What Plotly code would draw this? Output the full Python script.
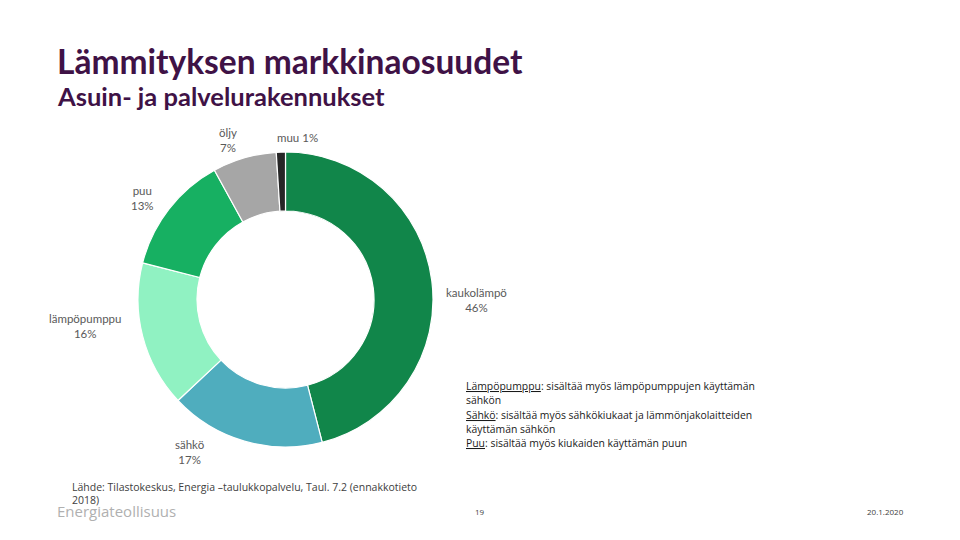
import plotly.graph_objects as go

# Data
categories = ["kaukolämpö", "sähkö", "lämpöpumppu", "puu", "öljy", "muu"]
shares = [46, 17, 16, 13, 7, 1]
colors = ["#11864A", "#4FADBE", "#90F2C2", "#17B062", "#A6A6A6", "#262626"]

W, H = 960, 540
OX, OY = 8, 8  # page body offset compensation


def px(x):
    return (x - OX) / W


def py(y):
    return 1 - (y - OY) / H


fig = go.Figure()
fig.add_trace(go.Pie(
    labels=categories,
    values=shares,
    sort=False,
    direction="clockwise",
    rotation=0,
    hole=0.6,
    marker=dict(colors=colors, line=dict(color="white", width=1.2)),
    textinfo="none",
    showlegend=False,
    domain=dict(x=[px(138), px(433)], y=[py(447), py(152)]),
))

# Label placements (text positions only)
label_pos = {
    "kaukolämpö": (476, 300),
    "sähkö": (190, 452),
    "lämpöpumppu": (85, 326),
    "puu": (142, 198),
    "öljy": (228, 140),
    "muu": (297, 137),
}
lab_font = dict(family="Lato, Open Sans, sans-serif", size=11.5, color="#595959")
for cat, val in zip(categories, shares):
    x, y = label_pos[cat]
    txt = f"{cat} {val}%" if cat == "muu" else f"{cat}<br>{val}%"
    fig.add_annotation(x=px(x), y=py(y), xref="paper", yref="paper",
                       text=txt, showarrow=False, font=lab_font, align="center",
                       xanchor="center", yanchor="middle")

# Titles
fig.add_annotation(x=px(55), y=py(61), xref="paper", yref="paper",
                   text="<b>Lämmityksen markkinaosuudet</b>", showarrow=False,
                   font=dict(family="Lato, sans-serif", size=33.5, color="#3F1246"),
                   xanchor="left", yanchor="middle")
fig.add_annotation(x=px(55), y=py(96), xref="paper", yref="paper",
                   text="<b>Asuin- ja palvelurakennukset</b>", showarrow=False,
                   font=dict(family="Lato, sans-serif", size=25.5, color="#3F1246"),
                   xanchor="left", yanchor="middle")

# Notes
note_lines = ["<u>Lämpöpumppu</u>: sisältää myös lämpöpumppujen käyttämän",
              "sähkön",
              "<u>Sähkö</u>: sisältää myös sähkökiukaat ja lämmönjakolaitteiden",
              "käyttämän sähkön",
              "<u>Puu</u>: sisältää myös kiukaiden käyttämän puun"]
for i, line in enumerate(note_lines):
    fig.add_annotation(x=px(464), y=py(386 + i * 14.25), xref="paper", yref="paper",
                       text=line, showarrow=False, align="left",
                       font=dict(family="Open Sans, sans-serif", size=10.4, color="#1A1A1A"),
                       xanchor="left", yanchor="middle")

# Source
src_lines = ["Lähde: Tilastokeskus, Energia –taulukkopalvelu, Taul. 7.2 (ennakkotieto", "2018)"]
for i, line in enumerate(src_lines):
    fig.add_annotation(x=px(70), y=py(487 + i * 13), xref="paper", yref="paper",
                       text=line, showarrow=False, align="left",
                       font=dict(family="Open Sans, sans-serif", size=10.5, color="#404040"),
                       xanchor="left", yanchor="middle")

# Footer
fig.add_annotation(x=px(55), y=py(511), xref="paper", yref="paper",
                   text="Energiateollisuus", showarrow=False,
                   font=dict(family="Open Sans, sans-serif", size=15, color="#B0B0B0"),
                   xanchor="left", yanchor="middle")
fig.add_annotation(x=px(480), y=py(511), xref="paper", yref="paper",
                   text="19", showarrow=False,
                   font=dict(family="Open Sans, sans-serif", size=8, color="#404040"),
                   xanchor="center", yanchor="middle")
fig.add_annotation(x=px(906), y=py(511), xref="paper", yref="paper",
                   text="20.1.2020", showarrow=False,
                   font=dict(family="Open Sans, sans-serif", size=8, color="#404040"),
                   xanchor="right", yanchor="middle")

fig.update_layout(width=W, height=H, margin=dict(l=0, r=0, t=0, b=0),
                  paper_bgcolor="white", plot_bgcolor="white")

fig.write_html("out.html")
